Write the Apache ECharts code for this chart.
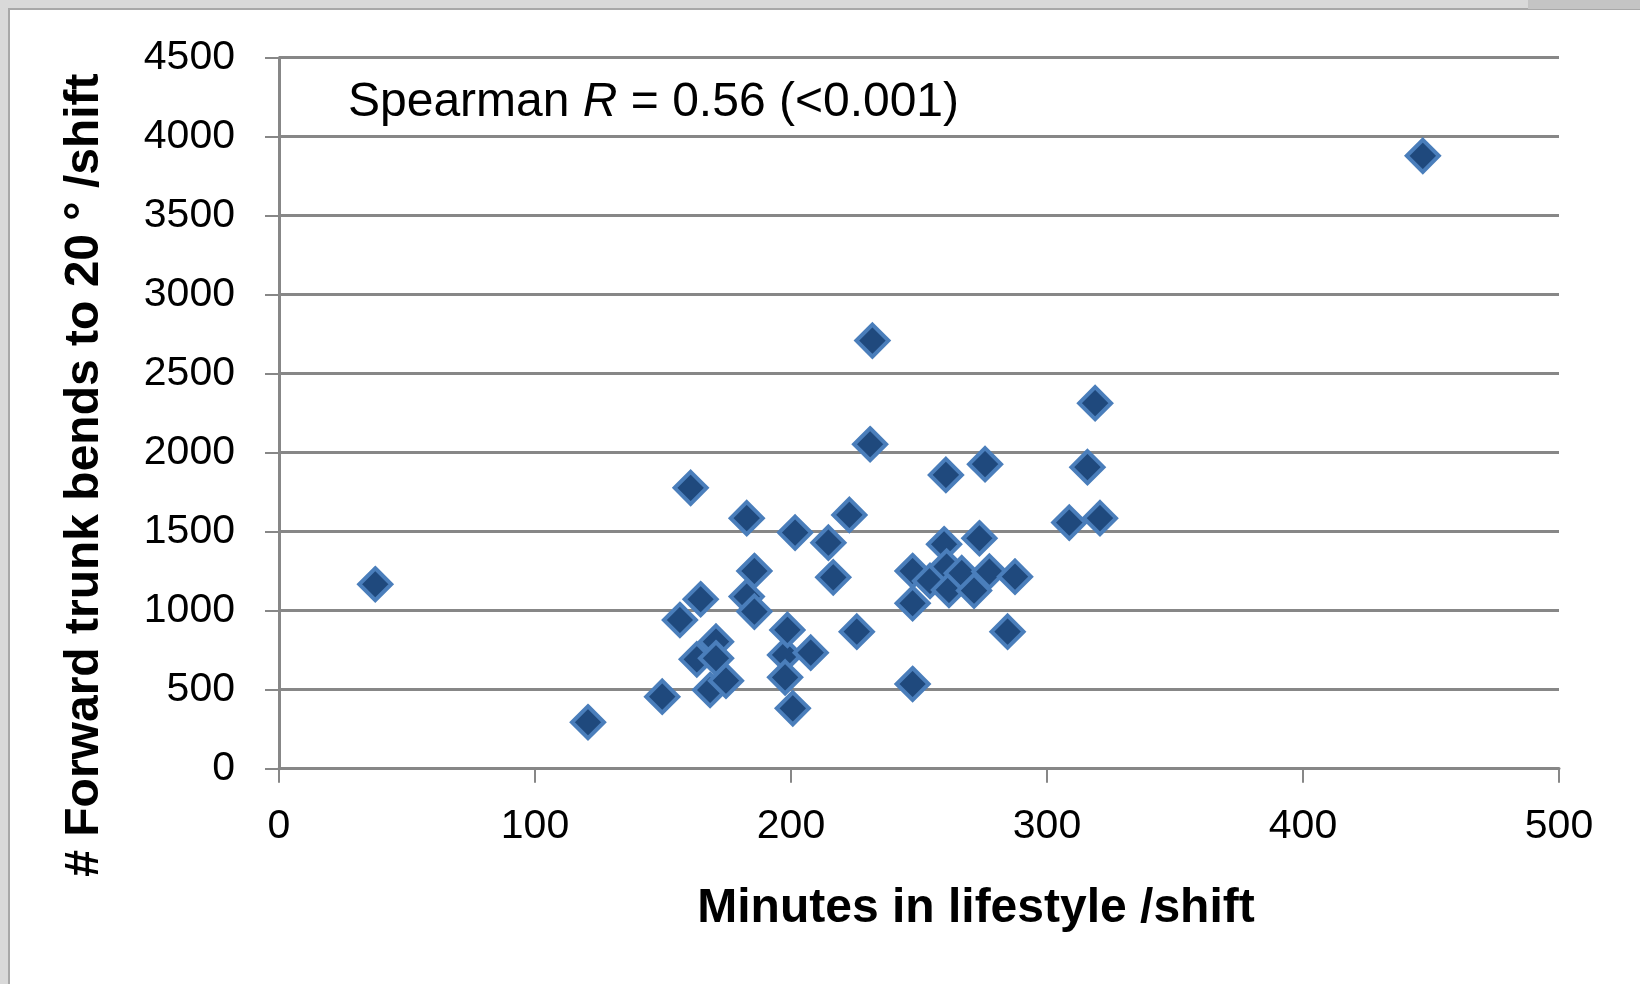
<!DOCTYPE html>
<html>
<head>
<meta charset="utf-8">
<script src="https://cdn.jsdelivr.net/npm/echarts@6/dist/echarts.min.js"></script>
<style>
html,body{margin:0;padding:0;background:#fff;}
#chart{width:1640px;height:984px;}
</style>
</head>
<body>
<div id="chart"></div>
<script>
// Data
const minutesLifestyle = [37.6, 120.7, 149.7, 156.6, 160.8, 163.2, 164.7, 168.4, 170.7, 170.7, 174.6, 182.7, 182.7, 185.7, 185.7, 197.7, 197.7, 198.6, 200.7, 201.6, 207.7, 214.6, 216.5, 222.8, 225.7, 230.9, 231.8, 247.5, 247.5, 247.5, 254.3, 259.8, 260.5, 260.8, 261.7, 266.7, 271.5, 273.6, 275.8, 277.5, 284.6, 287.5, 308.7, 315.8, 318.8, 320.7, 446.8];
const trunkBends = [1167, 294, 456, 941, 1777, 692, 1072, 498, 804, 699, 557, 1585, 1089, 1251, 994, 720, 578, 878, 382, 1494, 734, 1430, 1211, 1606, 867, 2053, 2709, 1251, 1047, 536, 1188, 1420, 1859, 1279, 1131, 1237, 1127, 1458, 1927, 1247, 867, 1215, 1557, 1908, 2313, 1585, 3878];
const xTicks = [0, 100, 200, 300, 400, 500];
const yTicks = [0, 500, 1000, 1500, 2000, 2500, 3000, 3500, 4000, 4500];
const xTitle = 'Minutes in lifestyle /shift';
const yTitle = '# Forward trunk bends to 20 \u00B0 /shift';
const annotationPre = 'Spearman ';
const annotationR = 'R';
const annotationPost = ' = 0.56 (<0.001)';

const points = minutesLifestyle.map((x, i) => [x, trunkBends[i]]);
const gridGray = '#878787';
const font = '"Liberation Sans", Arial, sans-serif';

const chart = echarts.init(document.getElementById('chart'), null, {renderer: 'canvas'});
chart.setOption({
  backgroundColor: '#ffffff',
  animation: false,
  grid: {left: 279, right: 81, top: 57.5, bottom: 215.3, containLabel: false},
  xAxis: {
    type: 'value',
    min: xTicks[0], max: xTicks[xTicks.length - 1], interval: xTicks[1] - xTicks[0],
    axisLine: {show: true, lineStyle: {color: gridGray, width: 3}},
    axisTick: {show: true, inside: false, length: 14, lineStyle: {color: gridGray, width: 2}},
    splitLine: {show: false},
    axisLabel: {fontSize: 41, color: '#000', fontFamily: font, margin: 37, formatter: v => String(v)},
    name: xTitle,
    nameLocation: 'middle',
    nameGap: 116,
    nameTextStyle: {fontSize: 48, fontWeight: 'bold', color: '#000', fontFamily: font, padding: [0, 0, 0, 114]}
  },
  yAxis: {
    type: 'value',
    min: yTicks[0], max: yTicks[yTicks.length - 1], interval: yTicks[1] - yTicks[0],
    axisLine: {show: true, lineStyle: {color: gridGray, width: 3}},
    axisTick: {show: true, inside: false, length: 14, lineStyle: {color: gridGray, width: 2}},
    splitLine: {show: true, lineStyle: {color: gridGray, width: 3}},
    axisLabel: {fontSize: 41, color: '#000', fontFamily: font, margin: 44, formatter: v => String(v)},
    name: yTitle,
    nameLocation: 'middle',
    nameGap: 170,
    nameTextStyle: {fontSize: 48, fontWeight: 'bold', color: '#000', fontFamily: font, padding: [0, 124, 0, 0]}
  },
  series: [{
    type: 'scatter',
    data: points,
    symbol: 'diamond',
    symbolSize: 32,
    itemStyle: {color: '#1F497D', borderColor: '#4A7EBB', borderWidth: 4, opacity: 1},
    z: 5
  }],
  graphic: [
    {type: 'rect', left: 0, top: 0, z: 100, shape: {width: 1640, height: 8}, style: {fill: '#d9d9d9'}},
    {type: 'rect', left: 0, top: 0, z: 100, shape: {width: 8, height: 984}, style: {fill: '#d9d9d9'}},
    {type: 'rect', left: 8, top: 8, z: 101, shape: {width: 1632, height: 2}, style: {fill: '#a8a8a8'}},
    {type: 'rect', left: 8, top: 8, z: 101, shape: {width: 2, height: 976}, style: {fill: '#a8a8a8'}},
    {type: 'rect', left: 1528, top: 0, z: 102, shape: {width: 112, height: 9}, style: {fill: '#c4c4c4'}},
    {
      type: 'text', left: 348, top: 79, z: 50,
      style: {
        text: '{a|' + annotationPre + '}{b|' + annotationR + '}{a|' + annotationPost + '}',
        rich: {
          a: {fontSize: 48, fontFamily: font, fill: '#000'},
          b: {fontSize: 48, fontFamily: font, fontStyle: 'italic', fill: '#000'}
        }
      }
    }
  ]
});
</script>
</body>
</html>
